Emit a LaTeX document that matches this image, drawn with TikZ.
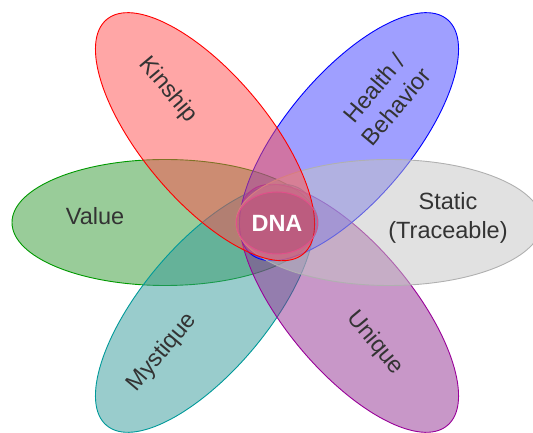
\documentclass[tikz,border=0pt]{standalone}
\usepackage{fontspec}
\setmainfont{Liberation Sans}
\usetikzlibrary{shapes.geometric}

\definecolor{valuefill}{HTML}{339933}
\definecolor{valueline}{HTML}{009900}
\definecolor{mystfill}{HTML}{339999}
\definecolor{mystline}{HTML}{009999}
\definecolor{uniqfill}{HTML}{913091}
\definecolor{uniqline}{HTML}{990099}
\definecolor{healthfill}{HTML}{4040FF}
\definecolor{healthline}{HTML}{0000FF}
\definecolor{staticfill}{HTML}{C4C4C4}
\definecolor{staticline}{HTML}{B0B0B0}
\definecolor{kinfill}{HTML}{FF4D4D}
\definecolor{kinline}{HTML}{FF0000}
\definecolor{dnafill}{HTML}{A8406E}
\definecolor{dnaline}{HTML}{E0508A}
\definecolor{textgray}{HTML}{333333}

\begin{document}
\begin{tikzpicture}[x=1pt, y=1pt,
		petal/.style={line width=0.9pt, fill opacity=0.5},
		petaltext/.style={text=textgray, font=\fontsize{23.5}{29}\selectfont, align=center, inner sep=0pt},
		dnastyle/.style={draw=dnaline, ellipse, line width=1pt, fill=dnafill, fill opacity=0.35, text opacity=1,
			minimum width=78pt, minimum height=62pt, text=white, font=\fontsize{23.5}{29}\selectfont\bfseries}]

		\clip (0,0) rectangle (533,433);
		\coordinate (centre) at (277,210.5);

		\foreach \angle/\fillc/\linec in {180/valuefill/valueline, 230/mystfill/mystline, 310/uniqfill/uniqline,
			50/healthfill/healthline, 0/staticfill/staticline, 130/kinfill/kinline}
		{
			\draw[petal, shift={(centre)}, rotate=\angle, draw=\linec, fill=\fillc] (112,0) ellipse [x radius=153, y radius=63];
		}

		\node [petaltext, rotate=-50] (kinship) at (168,343) {Kinship};
		\node [petaltext, rotate=50] (health) at (385,336) {Health /\\Behavior};
		\node [petaltext] (static) at (448,215.5) {Static\\(Traceable)};
		\node [petaltext] (value) at (95,216.5) {Value};
		\node [petaltext, rotate=50] (mystique) at (162,80) {Mystique};
		\node [petaltext, rotate=-50] (unique) at (375,90) {Unique};

		\node [dnastyle] (dna) at (277,210) {DNA};

		\end{tikzpicture}
\end{document}
